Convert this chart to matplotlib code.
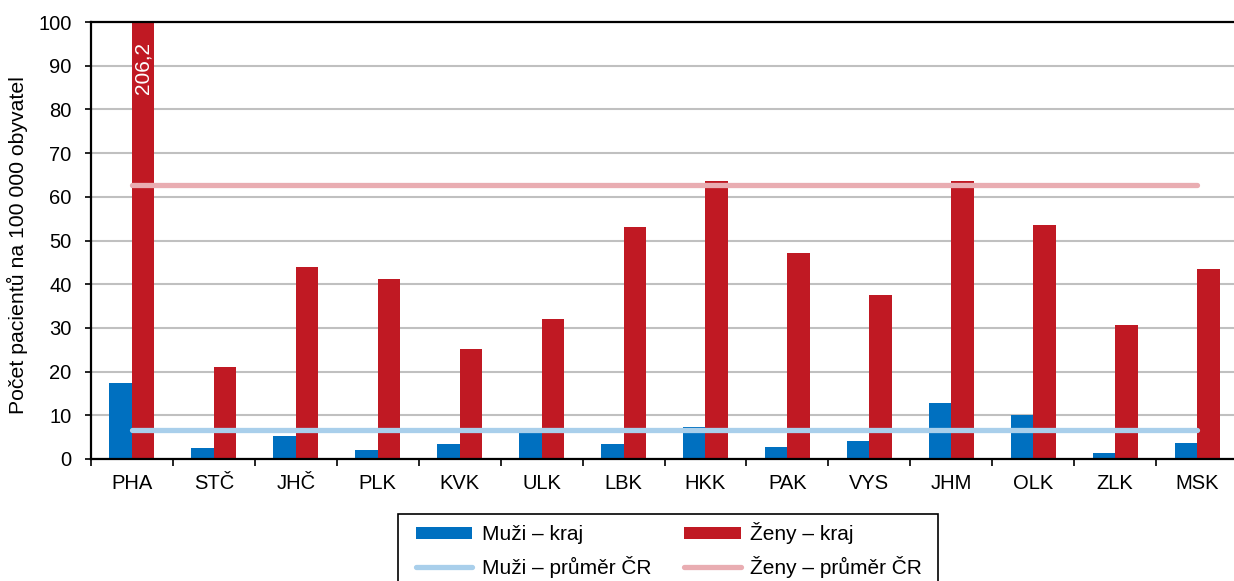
import matplotlib
matplotlib.use("Agg")
import matplotlib.pyplot as plt
import numpy as np
from matplotlib.patches import Patch, Rectangle
from matplotlib.lines import Line2D

plt.rcParams['font.family'] = ['Liberation Sans', 'DejaVu Sans']

categories = ["PHA", "STČ", "JHČ", "PLK", "KVK", "ULK", "LBK", "HKK", "PAK", "VYS", "JHM", "OLK", "ZLK", "MSK"]
muzi_kraj = [17.5, 2.5, 5.2, 2.0, 3.4, 6.6, 3.4, 7.3, 2.8, 4.2, 12.9, 10.1, 1.4, 3.7]
zeny_kraj = [206.2, 21.1, 43.9, 41.2, 25.2, 32.0, 53.1, 63.6, 47.1, 37.5, 63.6, 53.5, 30.7, 43.5]
muzi_prumer = 6.7
zeny_prumer = 62.6
pha_label = "206,2"

c_blue = "#0070C0"
c_red = "#C01923"
c_lblue = "#A9CFEB"
c_pink = "#E9ADB2"

W, H = 1234, 581
fig = plt.figure(figsize=(W / 100, H / 100), dpi=100)
ax = fig.add_axes([91 / W, 1 - 459 / H, 1147 / W, (459 - 22) / H])

x = np.arange(len(categories))
bw = 0.275
ax.bar(x - bw / 2, muzi_kraj, width=bw, color=c_blue, zorder=2)
ax.bar(x + bw / 2, zeny_kraj, width=bw, color=c_red, zorder=2)
ax.plot(x, [muzi_prumer] * len(x), color=c_lblue, lw=3.8, solid_capstyle='round', zorder=3)
ax.plot(x, [zeny_prumer] * len(x), color=c_pink, lw=3.8, solid_capstyle='round', zorder=3)

ax.text(x[0] + bw / 2, 95.5, pha_label, rotation=90, color='white', fontsize=15,
        ha='center', va='top', zorder=4)

ax.set_xlim(-0.5, len(categories) - 0.5)
ax.set_ylim(0, 100)
ax.set_yticks(np.arange(0, 101, 10))
ax.yaxis.grid(True, color='#C0C0C0', lw=1.5, zorder=0)
ax.set_axisbelow(True)

ax.set_xticks(np.arange(-0.5, len(categories), 1.0))
ax.set_xticklabels([])
ax.set_xticks(x, minor=True)
ax.set_xticklabels(categories, minor=True)
ax.tick_params(axis='x', which='minor', length=0, labelsize=14.5, pad=11)
ax.tick_params(axis='x', which='major', direction='out', length=5, width=1.2)
ax.tick_params(axis='y', direction='out', length=4, width=1.2, labelsize=14.5, pad=10)

for s in ['left', 'bottom', 'top']:
    ax.spines[s].set_linewidth(1.6)
    ax.spines[s].set_color('black')
ax.spines['right'].set_visible(False)

ax.set_ylabel("Počet pacientů na 100 000 obyvatel", fontsize=15.3)
ax.yaxis.set_label_coords((28 - 91) / 1147, 0.49)

handles = [
    Patch(facecolor=c_blue, edgecolor='none'),
    Line2D([0], [0], color=c_lblue, lw=3.8, solid_capstyle='round'),
    Patch(facecolor=c_red, edgecolor='none'),
    Line2D([0], [0], color=c_pink, lw=3.8, solid_capstyle='round'),
]
labels = ["Muži – kraj", "Muži – průměr ČR", "Ženy – kraj", "Ženy – průměr ČR"]
leg = fig.legend(handles, labels, loc='upper center', bbox_to_anchor=(669 / W, 1 - 513 / H),
                 ncol=2, fontsize=15, frameon=False,
                 handlelength=2.7, handleheight=0.55, columnspacing=1.6, borderpad=0.45,
                 labelspacing=0.55, handletextpad=0.45, borderaxespad=0)

# legend frame (bottom edge runs off the image as in the reference)
fig.patches.append(Rectangle((398 / W, -0.05), (938 - 398) / W, 0.05 + (1 - 514 / H),
                             transform=fig.transFigure, fill=False, edgecolor='black',
                             lw=1.2, zorder=5))

fig.savefig("out.png", dpi=100)
